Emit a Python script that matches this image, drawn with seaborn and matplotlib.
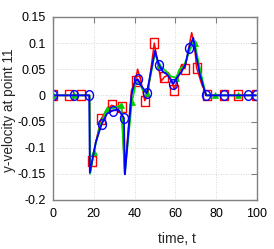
import matplotlib
matplotlib.use("Agg")
import matplotlib.pyplot as plt
from matplotlib.path import Path
import numpy as np
import seaborn as sns
import pandas as pd

# ---- data ----
red_t = [0, 7.8, 14, 18, 18.3, 19.3, 21, 23.5, 26, 28.8, 31, 33.7, 35.2, 37, 38.5, 40.5, 41.5, 43, 45, 46.5,
         48, 49.7, 51, 53, 54.6, 57, 59.5, 61, 63, 64.7, 66.5, 68, 69.5, 70.4, 73, 75.5, 84, 90.7, 99.5]
red_v = [0, 0, 0, 0, -0.148, -0.126, -0.09, -0.046, -0.03, -0.019, -0.022, -0.022, -0.151, -0.06, 0.01, 0.028, 0.05, 0.03, -0.01, 0.0,
         0.05, 0.10, 0.07, 0.027, 0.035, 0.04, 0.011, 0.03, 0.058, 0.051, 0.09, 0.12, 0.09, 0.053, 0.02, 0, 0, 0, 0]
red_marks = [0, 1, 2, 5, 7, 9, 11, 15, 18, 21, 24, 26, 29, 33, 35, 36, 37, 38]

green_t = [0, 10.5, 18, 18.2, 20, 23, 26.3, 30, 33.5, 35.2, 37, 38.7, 40.5, 42, 44, 46, 48, 49.8, 51, 52,
           55, 58, 60.5, 62, 64, 66.5, 68.5, 69.5, 71.5, 75, 79.5, 90.7, 100]
green_v = [0, 0, 0, -0.15, -0.109, -0.06, -0.027, -0.024, -0.018, -0.15, -0.08, -0.013, 0.02, 0.028, 0.01, 0.004, 0.04, 0.078, 0.07, 0.058,
           0.048, 0.036, 0.034, 0.05, 0.055, 0.08, 0.1, 0.1, 0.06, 0, 0, 0, 0]
green_marks = [0, 1, 4, 6, 8, 11, 15, 19, 22, 27, 30, 31]

blue_t = [0, 10.5, 17.8, 18.1, 21, 23.9, 26.5, 29.3, 32, 34.8, 35.3, 37, 38.5, 40, 41.5, 43, 46, 48, 50, 52,
          54, 56, 59, 61, 63, 65, 66.7, 68.8, 70, 72, 75, 84, 95.6, 99.5]
blue_v = [0, 0, 0, -0.148, -0.09, -0.055, -0.035, -0.029, -0.027, -0.043, -0.151, -0.07, 0.0, 0.025, 0.031, 0.02, 0.004, 0.045, 0.085, 0.058,
          0.045, 0.04, 0.022, 0.035, 0.045, 0.06, 0.091, 0.11, 0.08, 0.04, 0, 0, 0, 0]
blue_marks = [0, 1, 2, 5, 7, 9, 14, 16, 19, 22, 26, 30, 31, 32, 33]

x_ticks = [0, 20, 40, 60, 80, 100]
y_ticks = [-0.2, -0.15, -0.1, -0.05, 0, 0.05, 0.1, 0.15]
y_tick_labels = ["-0.2", "-0.15", "-0.1", "-0.05", "0", "0.05", "0.1", "0.15"]
x_label = "time, t"
y_label = "y-velocity at point 11"

sns.set_style("white")
plt.rcParams['font.family'] = ['Liberation Sans Narrow', 'Liberation Sans', 'DejaVu Sans']

# horizontally squeezed marker shapes (as in the reference)
sq = 0.82
ang = np.linspace(0, 2 * np.pi, 41)
ellipse = Path(np.column_stack([sq * np.cos(ang), np.sin(ang)]), closed=True)
rect = Path([(-sq, -1), (sq, -1), (sq, 1), (-sq, 1), (-sq, -1)], closed=True)

fig = plt.figure(figsize=(2.74, 2.49), dpi=100)
ax = fig.add_axes([0.193, 0.197, 0.745, 0.735])

red_df = pd.DataFrame({"t": red_t, "v": red_v})
green_df = pd.DataFrame({"t": green_t, "v": green_v})
blue_df = pd.DataFrame({"t": blue_t, "v": blue_v})

sns.lineplot(data=red_df, x="t", y="v", ax=ax, color="#ff0000", lw=1.1, estimator=None, sort=False,
             marker=rect, markevery=red_marks, markersize=7, markerfacecolor="none",
             markeredgecolor="#ff0000", markeredgewidth=1.0)
sns.lineplot(data=green_df, x="t", y="v", ax=ax, color="#00dd00", lw=1.3, estimator=None, sort=False,
             marker="^", markevery=green_marks, markersize=5, markerfacecolor="#00cc00",
             markeredgecolor="#00cc00", markeredgewidth=0.5)
sns.lineplot(data=blue_df, x="t", y="v", ax=ax, color="#0000ff", lw=1.3, estimator=None, sort=False,
             marker=ellipse, markevery=blue_marks, markersize=7, markerfacecolor="none",
             markeredgecolor="#0000ff", markeredgewidth=1.0)

ax.set_xlim(0, 100)
ax.set_ylim(-0.2, 0.15)
ax.set_xticks(x_ticks)
ax.set_xticklabels([str(v) for v in x_ticks])
ax.set_yticks(y_ticks)
ax.set_yticklabels(y_tick_labels)
ax.grid(True, color="#cccccc", linestyle=(0, (1, 2)), linewidth=0.6)
for s in ax.spines.values():
    s.set_color("#808080")
    s.set_linewidth(1.0)
ax.tick_params(direction="in", length=4, width=0.8, color="#808080", top=True, right=True,
               labelsize=9, labelcolor="black")
ax.tick_params(axis="x", pad=6)
ax.tick_params(axis="y", pad=5)
ax.set_xlabel(x_label, fontsize=10)
ax.xaxis.set_label_coords(0.61, -0.175)
ax.set_ylabel(y_label, fontsize=9.8, family=['Liberation Sans', 'DejaVu Sans'])
ax.yaxis.set_label_coords(-0.183, 0.49)

fig.savefig("out.png", dpi=100)
